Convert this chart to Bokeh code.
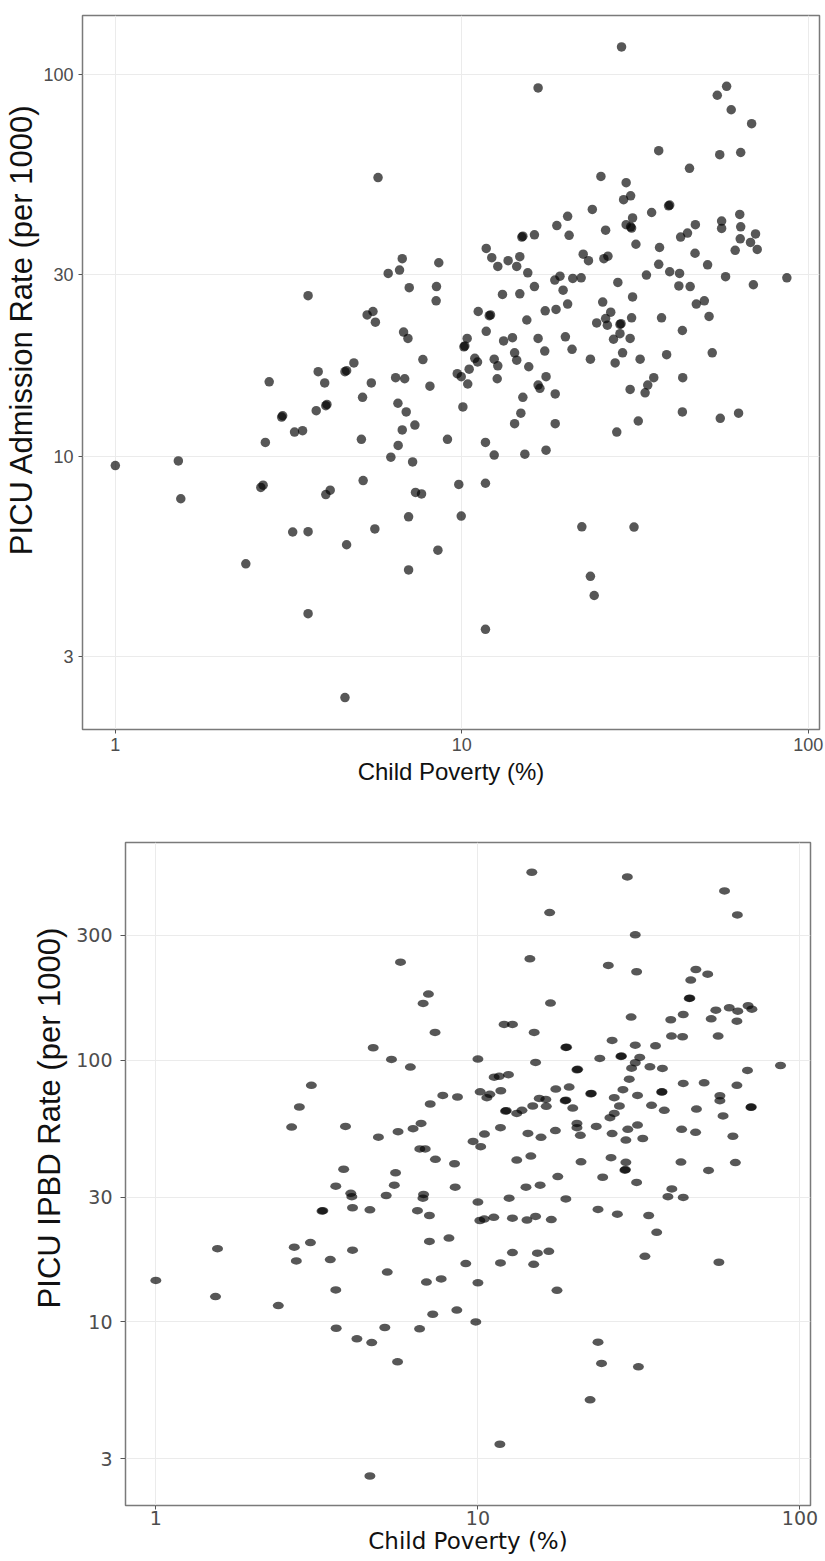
from bokeh.plotting import figure
from bokeh.models import Range1d, FixedTicker
from bokeh.embed import file_html
from bokeh.resources import INLINE

# ---------------- data: top panel (PICU admission rate) ----------------
poverty_adm = [
    5.73, 6.73, 8.58, 6.61, 6.13, 7.05, 8.45, 3.60, 8.43, 5.54, 5.33, 5.63, 6.79, 6.99, 7.72, 4.88, 3.85, 4.60, 4.65,
    2.78, 4.02, 5.48, 6.44, 6.84, 8.09, 5.17, 6.54, 6.91, 4.05, 4.08, 3.80, 3.02, 3.04, 3.29, 3.47, 7.32, 6.73, 2.71,
    5.13, 6.55, 9.09, 6.24, 7.21, 1.00, 1.52, 1.545, 2.63, 2.67, 5.19, 4.17, 4.05, 7.35, 7.65, 7.02, 3.25, 3.60, 5.61,
    4.65, 8.53, 2.38, 7.02, 3.60, 4.60,
    28.9, 16.6, 58.1, 54.6, 59.9, 68.6, 37.0, 55.5, 63.8, 45.4, 25.2, 29.8, 30.7, 29.3, 39.5, 39.8, 23.8, 35.3, 20.2,
    31.1, 63.4, 18.8, 29.8, 30.7, 30.9, 56.2, 56.2, 47.2, 63.8, 14.9, 15.0, 16.2, 20.4, 26.0, 44.8, 42.8, 63.6, 70.4,
    68.1, 31.8, 11.76, 37.2, 61.5, 71.2, 12.2, 14.7, 13.6, 12.7, 14.4, 15.5, 22.4, 23.2, 25.7, 26.4, 47.1, 37.0, 51.2,
    39.8, 42.5, 34.1, 19.2, 18.55, 20.9, 22.1, 57.7, 86.7, 16.2, 28.2, 42.3, 45.6, 69.4, 13.1, 14.7, 19.6, 31.1, 20.2,
    25.5, 50.1, 47.5, 11.15, 12.0, 12.1, 17.4, 18.7, 15.4, 26.9, 26.0, 24.5, 26.3, 28.6, 28.8, 30.9, 37.7, 51.7, 11.76,
    10.36, 13.2, 14.0, 16.6, 19.9, 28.6, 27.4, 30.6, 43.3, 10.14, 10.2, 14.2, 17.35, 20.8, 29.1, 39.0, 52.8, 10.9, 11.1,
    12.4, 12.7, 14.4, 15.6, 23.5, 27.7, 32.7, 10.5,
    9.70, 9.96, 12.65, 17.5, 16.6, 16.8, 15.0, 18.6, 10.4, 10.07, 14.8, 14.2, 18.6, 30.6, 35.8, 34.4, 33.8, 43.4, 43.3,
    32.3, 28.0, 55.7, 62.9, 11.7, 12.4, 15.2, 17.5, 9.80, 11.7, 9.96, 22.2, 31.4, 23.5, 24.1, 11.7,
]
admission_rate = [
    53.8, 33.0, 32.2, 30.8, 30.2, 27.7, 27.9, 26.4, 25.6, 24.0, 23.5, 22.5, 21.2, 20.4, 17.96, 17.6, 16.7, 16.7, 16.8,
    15.7, 15.6, 15.6, 16.1, 16.0, 15.3, 14.3, 13.8, 13.1, 13.6, 13.7, 13.2, 12.7, 12.8, 11.6, 11.7, 12.1, 11.75, 10.9,
    11.1, 10.7, 11.1, 9.97, 9.69, 9.48, 9.75, 7.76, 8.31, 8.42, 8.66, 8.17, 7.96, 8.06, 7.99, 6.96, 6.35, 6.36, 6.47,
    5.88, 5.69, 5.24, 5.05, 3.88, 2.34,
    118.3, 92.4, 93.3, 88.4, 81.0, 74.5, 63.3, 61.8, 62.6, 56.9, 54.2, 52.2, 48.2, 47.1, 45.4, 45.6, 44.4, 43.6, 42.6,
    42.2, 43.1, 40.3, 40.5, 40.0, 39.7, 41.4, 39.6, 40.5, 40.0, 37.6, 37.8, 38.1, 38.0, 39.2, 38.5, 37.6, 37.2, 38.3,
    36.4, 36.0, 35.1, 35.3, 34.7, 34.9, 33.2, 33.4, 32.6, 31.5, 31.5, 30.3, 33.9, 32.6, 33.0, 33.5, 34.1, 31.9, 31.8,
    30.5, 30.2, 29.9, 29.7, 29.0, 29.3, 29.4, 29.6, 29.4, 27.9, 28.6, 28.0, 27.9, 28.2, 26.6, 26.7, 27.3, 26.2, 25.1,
    25.4, 25.6, 25.1, 24.0, 23.4, 23.5, 24.1, 24.3, 22.8, 23.9, 23.0, 22.4, 22.1, 22.2, 22.3, 23.1, 23.1, 23.3, 21.3,
    20.4, 20.1, 20.5, 20.4, 20.6, 21.0, 20.3, 20.4, 21.4, 19.4, 19.5, 18.7, 18.9, 19.1, 18.7, 18.5, 18.7, 18.1, 17.7,
    18.0, 17.3, 17.9, 17.2, 18.0, 17.6, 18.0, 16.95,
    16.5, 16.2, 16.0, 16.2, 15.4, 15.1, 14.3, 14.6, 15.5, 13.5, 13.0, 12.2, 12.2, 15.0, 16.1, 15.4, 14.7, 16.1, 13.1,
    12.4, 11.6, 12.6, 13.0, 10.9, 10.1, 10.15, 10.4, 8.46, 8.52, 6.99, 6.55, 6.54, 4.86, 4.33, 3.53,
]

# ---------------- data: bottom panel (PICU IPBD rate) ----------------
poverty_ipbd = [
    5.75, 7.02, 6.76, 7.36, 4.73, 5.39, 6.17, 3.04, 2.79, 2.64, 3.88, 4.91, 5.65, 6.29, 6.66, 7.11, 7.78, 8.64, 6.60,
    6.86, 7.38, 8.46, 3.83, 5.55,
    3.62, 4.03, 4.06, 5.50, 5.19, 6.78, 6.75, 8.50, 3.28, 3.30, 4.08, 4.62, 6.49, 7.07, 1.554, 2.69, 3.02, 2.73, 3.48,
    4.08, 7.07, 8.13, 9.17, 1.00, 1.532, 2.40, 3.62, 5.23, 6.92, 7.69, 7.24, 8.60, 3.63, 4.21, 4.68, 5.14, 6.59, 5.63,
    4.62,
    14.7, 29.1, 58.3, 16.7, 63.9, 30.8, 14.5, 25.4, 31.1, 47.5, 51.7, 45.8, 45.3, 45.5, 16.8, 29.9, 54.8, 60.3, 64.1,
    69.0, 70.9, 39.7, 43.4, 53.0, 63.7, 12.06, 12.8, 14.95, 39.9, 43.2, 55.7, 26.1, 30.8, 35.6, 18.75, 18.85, 27.8,
    27.9, 10.0, 15.1, 23.9, 31.8, 30.8, 30.0, 34.2, 37.4, 20.3, 20.4, 87.0, 68.7, 11.23, 11.64, 12.44, 29.5, 43.4,
    50.4, 63.7, 10.16, 10.89, 10.66, 11.78, 17.45, 19.2, 22.4, 22.5, 28.2, 26.5, 31.3, 37.2, 37.3, 56.4, 56.4, 15.5,
    16.25, 16.3, 18.66, 18.75, 19.7, 14.8, 12.18, 12.25, 13.2, 13.7, 27.5, 25.7, 26.5, 34.6, 37.9, 47.7, 70.4, 70.6,
    57.7, 20.3, 20.3, 20.8, 23.3, 17.4, 14.3, 15.7, 11.75, 10.48, 9.66, 10.2, 26.1, 29.2, 31.3, 28.8, 32.5, 42.9,
    47.4, 61.9, 13.2, 14.6, 20.9, 25.9, 28.8, 28.6, 28.7, 42.7, 52.0, 63.0, 17.7, 24.4, 31.1,
    14.1, 15.6, 40.0, 38.9, 43.4, 10.0, 12.5, 18.75, 10.14, 10.46, 11.2, 12.8, 14.2, 15.1, 16.9, 23.6, 27.1, 33.9,
    35.9, 11.75, 12.8, 14.9, 15.3, 16.6, 33.0, 56.0, 10.0, 17.6, 9.85, 23.6, 24.2, 31.5, 22.3, 11.7,
]
ipbd_rate = [
    236.7, 178.7, 164.6, 127.6, 111.5, 100.6, 94.1, 80.1, 66.2, 55.5, 55.8, 50.8, 53.3, 54.7, 57.3, 68.0, 73.3, 72.3,
    45.8, 45.8, 41.8, 40.2, 38.3, 37.1,
    33.0, 31.0, 30.1, 33.3, 30.4, 30.7, 29.7, 32.7, 26.5, 26.6, 27.3, 26.8, 26.6, 25.5, 19.05, 19.3, 20.1, 17.1, 17.3,
    18.8, 20.3, 20.9, 16.7, 14.4, 12.5, 11.55, 13.25, 15.5, 14.2, 14.6, 10.7, 11.1, 9.46, 8.62, 8.34, 9.52, 9.41, 7.04,
    2.58,
    522, 501, 443, 366, 358.6, 300.9, 243.8, 229.9, 217.5, 221.9, 213.0, 202.1, 172.0, 172.5, 165.1, 146.0, 155.2,
    158.5, 153.8, 161.3, 156.6, 142.6, 149.4, 143.8, 140.9, 136.9, 136.9, 127.6, 123.5, 122.8, 123.5, 118.9, 114.1,
    113.4, 111.8, 112.1, 103.3, 103.6, 100.9, 98.0, 101.5, 102.4, 97.7, 93.2, 94.3, 93.0, 91.9, 92.2, 95.4, 91.3,
    86.1, 86.7, 88.0, 84.6, 81.5, 81.9, 80.1, 75.7, 74.0, 71.9, 76.4, 77.5, 78.9, 74.4, 74.6, 77.1, 71.9, 73.3, 75.5,
    75.7, 73.1, 70.0, 71.4, 70.8, 66.6, 70.0, 70.3, 65.6, 66.8, 63.9, 64.1, 62.6, 64.3, 66.8, 60.3, 62.6, 67.2, 64.3,
    65.0, 66.0, 66.2, 61.2, 57.3, 55.2, 51.6, 55.8, 53.8, 52.5, 50.7, 55.2, 52.2, 48.9, 46.7, 52.4, 54.4, 56.5, 49.5,
    50.2, 54.4, 53.0, 51.2, 41.5, 43.0, 40.9, 42.4, 40.7, 38.0, 38.2, 40.8, 37.9, 40.6, 35.9, 35.7, 34.1,
    32.7, 33.3, 32.2, 30.1, 29.9, 28.7, 29.7, 29.5, 24.4, 24.7, 25.1, 24.9, 24.5, 25.3, 24.6, 26.9, 25.8, 25.5, 22.0,
    16.8, 18.4, 16.6, 18.3, 18.6, 17.8, 16.9, 14.1, 13.2, 10.0, 8.37, 6.94, 6.74, 5.04, 3.41,
]

x_ticks = [1, 10, 100]
y_ticks_adm = [3, 10, 30, 100]
y_ticks_ipbd = [3, 10, 30, 100, 300]
x_title = "Child Poverty (%)"
y_title_adm = "PICU Admission Rate (per 1000)"
y_title_ipbd = "PICU IPBD Rate (per 1000)"

NBSP = "\u00a0"


def style(p, xt, yt, tick_font, tick_size, xt_font, xt_size, yt_font, yt_size,
          tick_standoff_y, ylabel_standoff, xlabel_standoff, xtick_standoff):
    p.background_fill_color = "white"
    p.border_fill_color = "white"
    p.outline_line_color = "#7a7a7a"
    p.outline_line_width = 1.5
    p.xaxis.ticker = FixedTicker(ticks=xt)
    p.yaxis.ticker = FixedTicker(ticks=yt)
    p.xaxis.major_label_overrides = {t: str(t) for t in xt}
    p.yaxis.major_label_overrides = {t: str(t) for t in yt}
    for ax in (p.xaxis, p.yaxis):
        ax.axis_line_color = None
        ax.minor_tick_line_color = None
        ax.major_tick_in = 0
        ax.major_tick_out = 4
        ax.major_tick_line_color = "#555555"
        ax.major_label_text_color = "#4d4d4d"
        ax.major_label_text_font = tick_font
        ax.major_label_text_font_size = tick_size
        ax.axis_label_text_font_style = "normal"
        ax.axis_label_text_color = "#111111"
    p.yaxis.major_label_standoff = tick_standoff_y
    p.xaxis.major_label_standoff = xtick_standoff
    p.xaxis.axis_label = x_title
    p.xaxis.axis_label_text_font = xt_font
    p.xaxis.axis_label_text_font_size = xt_size
    p.xaxis.axis_label_standoff = xlabel_standoff
    p.yaxis.axis_label_text_font = yt_font
    p.yaxis.axis_label_text_font_size = yt_size
    p.yaxis.axis_label_standoff = ylabel_standoff
    p.xgrid.grid_line_color = "#ebebeb"
    p.ygrid.grid_line_color = "#ebebeb"
    p.xgrid.grid_line_width = 1
    p.ygrid.grid_line_width = 1
    p.xgrid.minor_grid_line_color = None
    p.ygrid.minor_grid_line_color = None


# ---------------- top figure ----------------
p1 = figure(width=825, height=800, x_axis_type="log", y_axis_type="log",
            x_range=Range1d(0.804, 107.7), y_range=Range1d(1.93, 143.0),
            output_backend="svg", toolbar_location=None,
            min_border_left=82, min_border_right=6, min_border_top=15, min_border_bottom=71)
p1.scatter(poverty_adm, admission_rate, size=9.5, marker="circle",
           fill_color="black", fill_alpha=0.66, line_color=None)
# leading non-breaking spaces lift the centred label, as in the reference
p1.yaxis.axis_label = NBSP * 10 + y_title_adm
style(p1, x_ticks, y_ticks_adm, "Liberation Sans", "18px", "Liberation Sans", "24px",
      "Liberation Sans", "31px", 5, 1, 4, 4)

# ---------------- bottom figure ----------------
p2 = figure(width=825, height=760, x_axis_type="log", y_axis_type="log",
            x_range=Range1d(0.805, 107.8), y_range=Range1d(1.99, 678.0),
            output_backend="svg", toolbar_location=None,
            min_border_left=125, min_border_right=15, min_border_top=42, min_border_bottom=55)
p2.ellipse(poverty_ipbd, ipbd_rate, width=11, height=7.5,
           width_units="screen", height_units="screen",
           fill_color="black", fill_alpha=0.66, line_color=None)
p2.yaxis.axis_label = NBSP * 13 + y_title_ipbd
style(p2, x_ticks, y_ticks_ipbd, "DejaVu Sans", "19px", "DejaVu Sans", "23px",
      "Liberation Sans", "31px", 8, 6, 0, 1)
p2.yaxis.major_tick_out = 5

open("out.html", "w").write(file_html([p1, p2], INLINE))
